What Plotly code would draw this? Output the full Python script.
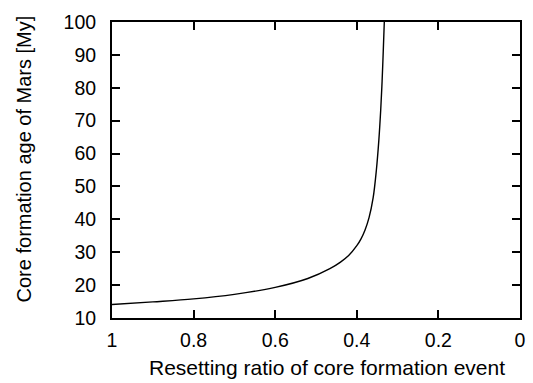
import plotly.graph_objects as go

# Resetting ratio of the core formation event and the corresponding core formation age
resetting_ratio = [1.0, 0.9, 0.8, 0.7, 0.6, 0.52, 0.466, 0.44, 0.42, 0.4,
                   0.39, 0.38, 0.37, 0.36, 0.352, 0.346, 0.3415, 0.338,
                   0.3352, 0.3326]
core_age_my = [14.1, 14.9, 15.8, 17.2, 19.3, 22.0, 25.0, 27.0, 29.0, 32.0,
               34.0, 36.7, 40.5, 46.5, 55.0, 64.0, 73.0, 82.0,
               91.0, 100.0]

x_ticks = [1, 0.8, 0.6, 0.4, 0.2, 0]
x_tick_text = ["1", "0.8", "0.6", "0.4", "0.2", "0"]
y_ticks = [10, 20, 30, 40, 50, 60, 70, 80, 90, 100]

x_title = "Resetting ratio of core formation event"
y_title = "Core formation age of Mars [My]"

font_family = "Liberation Sans, Arial, Helvetica, sans-serif"

fig = go.Figure(
    go.Scatter(
        x=resetting_ratio,
        y=core_age_my,
        mode="lines",
        line=dict(color="black", width=1.4, shape="spline", smoothing=1.0),
        showlegend=False,
    )
)

axis_common = dict(
    showgrid=False,
    zeroline=False,
    showline=True,
    linecolor="black",
    linewidth=2,
    mirror="ticks",
    ticks="inside",
    ticklen=8,
    tickwidth=1.5,
    tickcolor="black",
    automargin=False,
    tickfont=dict(family=font_family, size=19.5, color="black"),
)

fig.update_xaxes(
    range=[1, 0],
    tickvals=x_ticks,
    ticktext=x_tick_text,
    ticklabelstandoff=4,
    **axis_common,
)
fig.update_yaxes(
    range=[10, 100],
    tickvals=y_ticks,
    ticklabelstandoff=10,
    **axis_common,
)

# Axis titles placed as paper-anchored text
fig.add_annotation(
    text=x_title, xref="paper", yref="paper", x=0.527, y=-0.168,
    xanchor="center", yanchor="middle", showarrow=False,
    font=dict(family=font_family, size=21, color="black"),
)
fig.add_annotation(
    text=y_title, xref="paper", yref="paper", x=-0.2157, y=0.539,
    xanchor="center", yanchor="middle", showarrow=False, textangle=-90,
    font=dict(family=font_family, size=20, color="black"),
)

fig.update_layout(
    width=533,
    height=383,
    margin=dict(l=112, r=13, t=22, b=65),
    paper_bgcolor="white",
    plot_bgcolor="white",
    font=dict(family=font_family, size=19.5, color="black"),
)

fig.write_html("out.html")
